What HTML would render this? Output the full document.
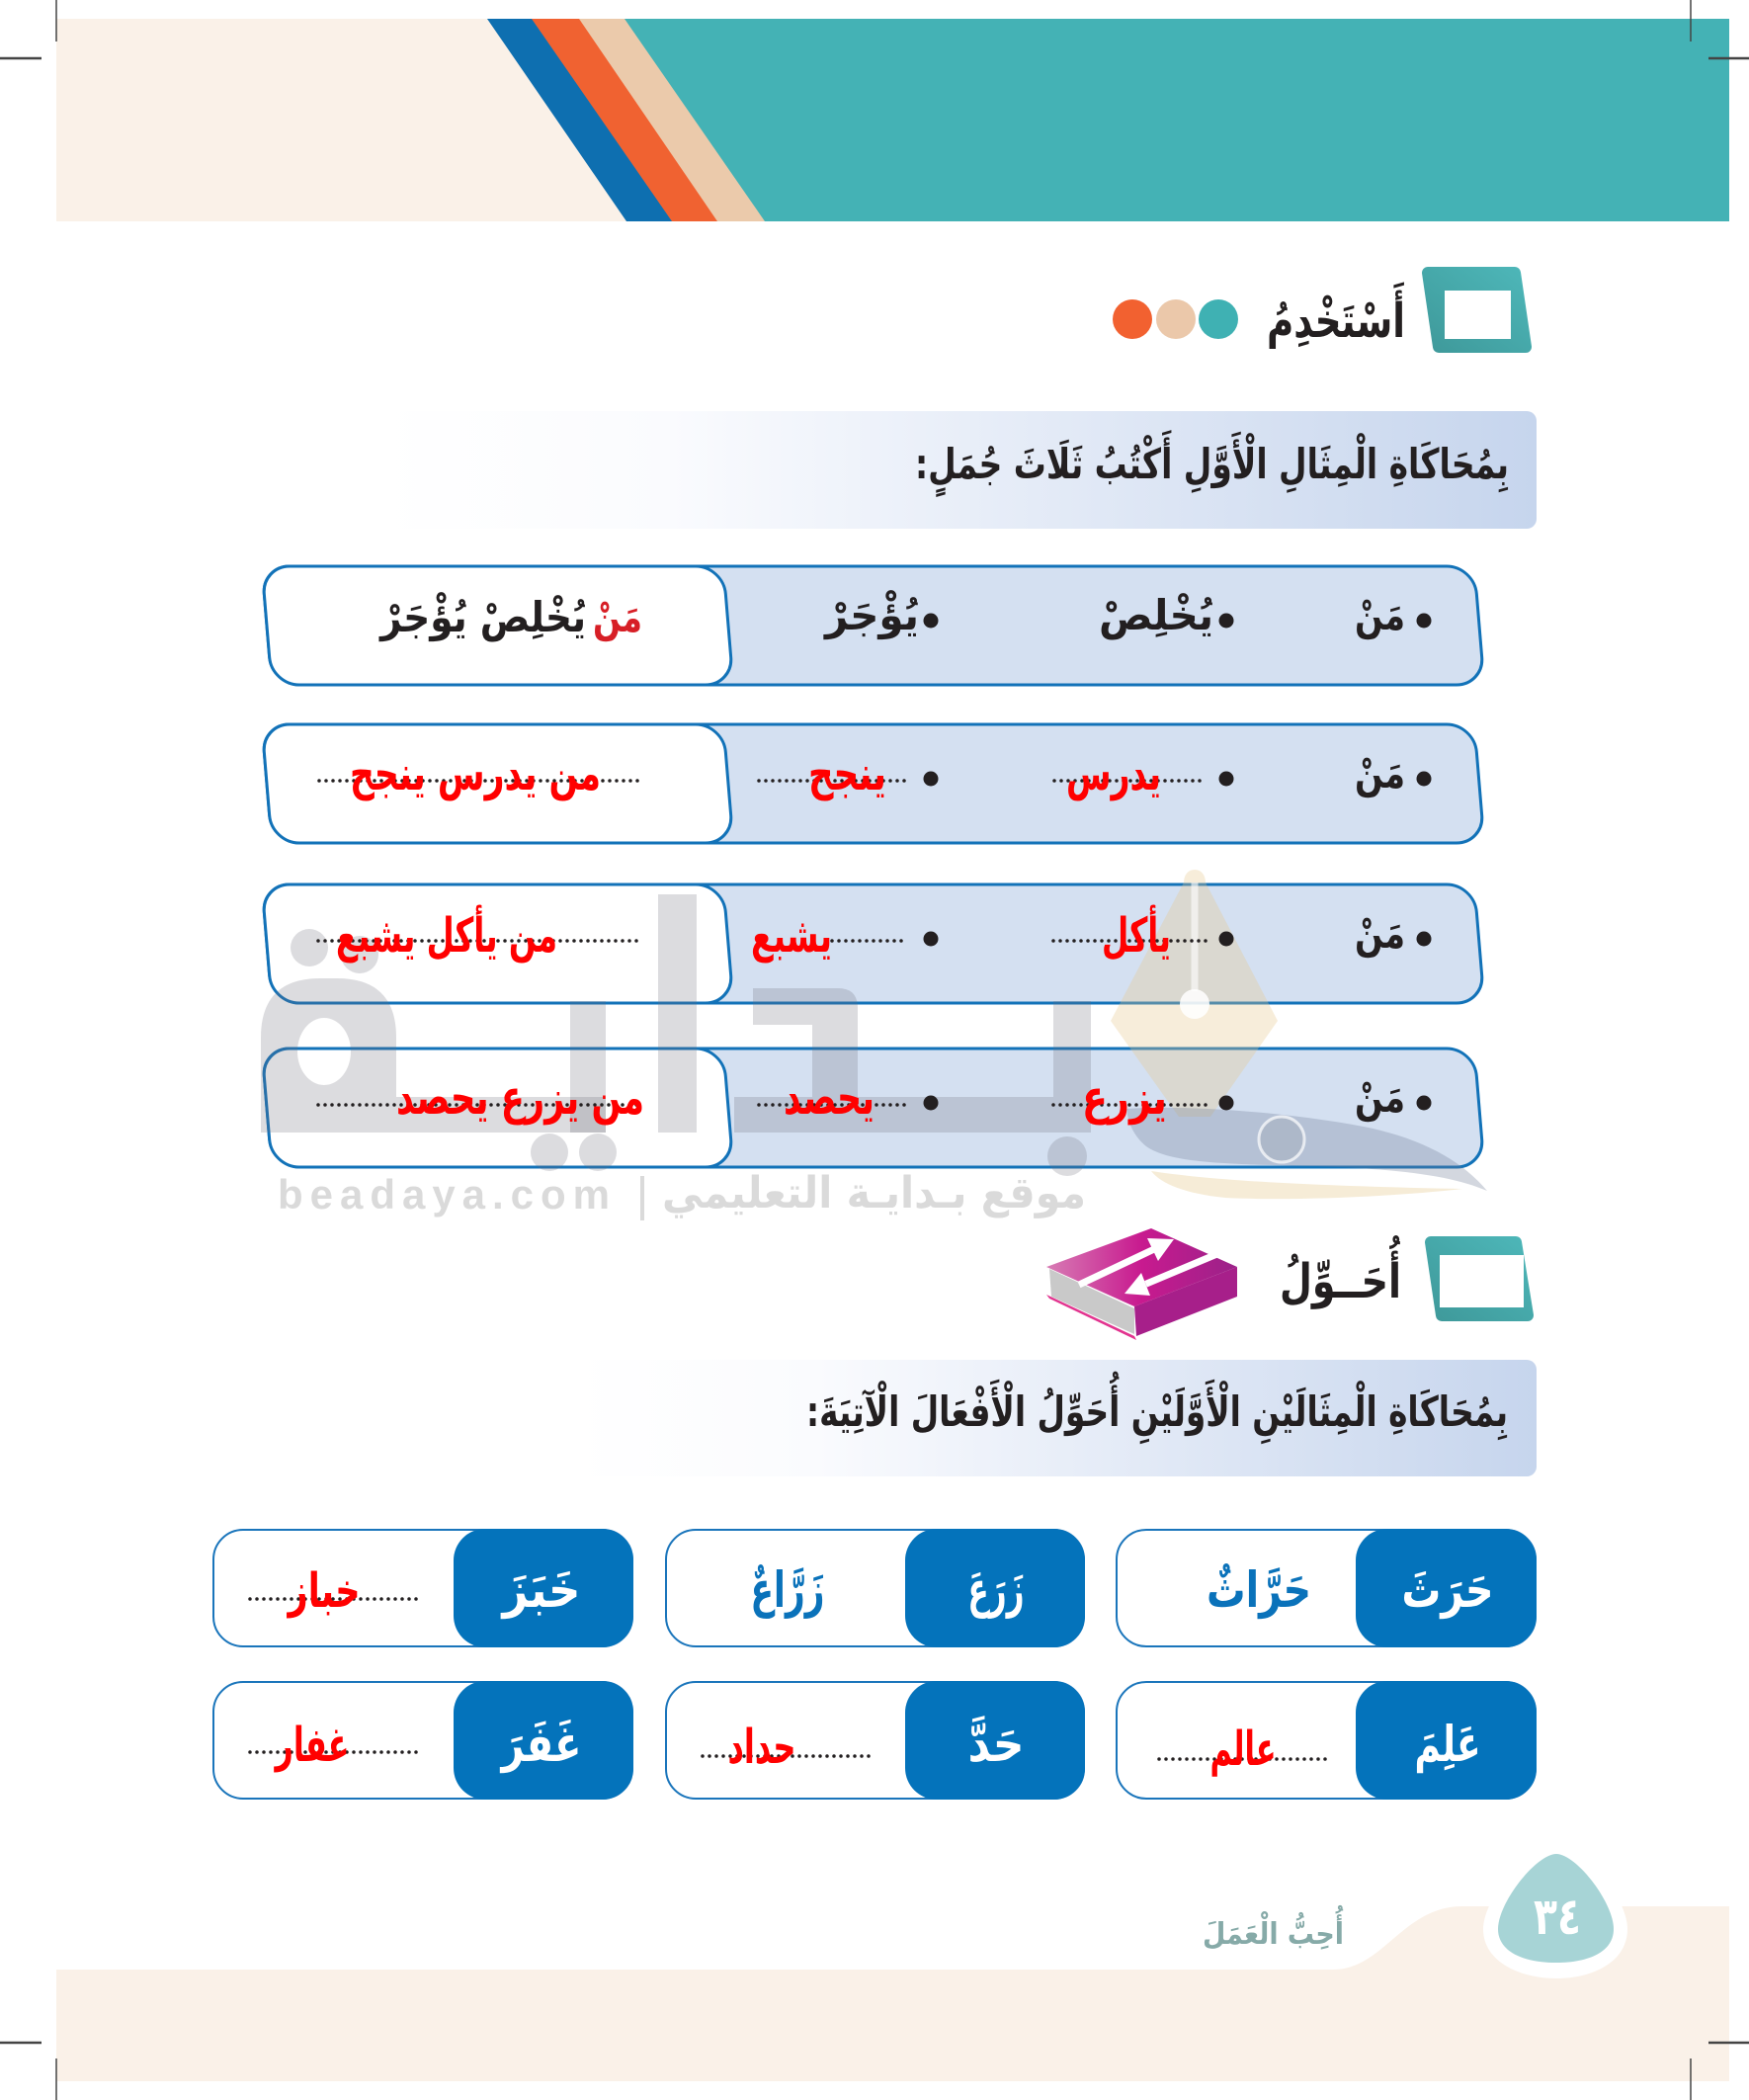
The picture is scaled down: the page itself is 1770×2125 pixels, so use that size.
<!DOCTYPE html>
<html><head><meta charset="utf-8">
<style>
html,body{margin:0;padding:0;background:#fff;}
svg{display:block;}
.ar{font-family:"DejaVu Sans",sans-serif;font-weight:bold;}
</style></head>
<body>
<svg width="1770" height="2125" viewBox="0 0 1770 2125" xmlns="http://www.w3.org/2000/svg">
<defs>
 <linearGradient id="ban" x1="0" x2="1" y1="0" y2="0">
  <stop offset="0" stop-color="#ffffff"/>
  <stop offset="0.25" stop-color="#fafbfe"/>
  <stop offset="1" stop-color="#c6d5ed"/>
 </linearGradient>
 <linearGradient id="icon" x1="0" y1="1" x2="1" y2="0">
  <stop offset="0" stop-color="#3f9a9b"/>
  <stop offset="1" stop-color="#4db6b8"/>
 </linearGradient>
 <linearGradient id="book" x1="0" x2="1" y1="0" y2="0">
  <stop offset="0" stop-color="#d77cb4"/>
  <stop offset="0.5" stop-color="#c81a8f"/>
  <stop offset="1" stop-color="#9b2289"/>
 </linearGradient>
</defs>

<!-- header -->
<rect x="57" y="19" width="1693" height="205" fill="#faf1e8"/>
<polygon points="493,19 1750,19 1750,224 634,224" fill="#0e6fb0"/>
<polygon points="538,19 1750,19 1750,224 680,224" fill="#f06231"/>
<polygon points="586,19 1750,19 1750,224 726,224" fill="#ebcaab"/>
<polygon points="632,19 1750,19 1750,224 774,224" fill="#44b2b5"/>

<!-- footer -->
<path d="M57,1993 L1349,1993 C1400,1993 1420,1929 1480,1929 L1750,1929 L1750,2106 L57,2106 Z" fill="#faf1e8"/>
<path d="M1575,1862 C1600,1862 1647,1920 1647,1952 C1647,1985 1612,2002 1575,2002 C1538,2002 1501,1985 1501,1952 C1501,1920 1550,1862 1575,1862 Z" fill="#ffffff"/>
<path d="M1575,1876 C1595,1876 1633,1925 1633,1952 C1633,1975 1608,1986 1575,1986 C1542,1986 1516,1975 1516,1952 C1516,1925 1555,1876 1575,1876 Z" fill="#a7d4d6"/>
<text class="ar" x="1576" y="1957" font-size="52" fill="#ffffff" text-anchor="middle" textLength="48" lengthAdjust="spacingAndGlyphs">٣٤</text>
<text class="ar" x="1288.5" y="1967" font-size="30" fill="#86aaa8" text-anchor="middle" textLength="143" lengthAdjust="spacingAndGlyphs" direction="rtl">أُحِبُّ الْعَمَلَ</text>

<!-- crop marks -->
<g stroke="#444">
<line x1="57" y1="0" x2="57" y2="42" stroke-width="1.5"/>
<line x1="0" y1="59" x2="42" y2="59" stroke-width="2.5"/>
<line x1="1711" y1="0" x2="1711" y2="42" stroke-width="1.5"/>
<line x1="1729" y1="59" x2="1770" y2="59" stroke-width="2.5"/>
<line x1="0" y1="2067" x2="42" y2="2067" stroke-width="2.5"/>
<line x1="1729" y1="2067" x2="1770" y2="2067" stroke-width="2.5"/>
<line x1="57" y1="2083" x2="57" y2="2125" stroke-width="1.5"/>
<line x1="1711" y1="2083" x2="1711" y2="2125" stroke-width="1.5"/>
</g>

<!-- section 1 heading -->
<polygon points="1445,276 1533,276 1544,351 1456,351" fill="url(#icon)" stroke="url(#icon)" stroke-width="12" stroke-linejoin="round"/>
<rect x="1462" y="294" width="67" height="49" fill="#ffffff"/>
<text class="ar" x="1352" y="341" font-size="48" fill="#231f20" text-anchor="middle" textLength="140" lengthAdjust="spacingAndGlyphs" direction="rtl">أَسْتَخْدِمُ</text>
<circle cx="1146" cy="323" r="20" fill="#f26130"/>
<circle cx="1190" cy="323" r="20" fill="#ebc8aa"/>
<circle cx="1233" cy="323" r="20" fill="#3fb1b3"/>

<!-- banner 1 -->
<rect x="386" y="416" width="1169" height="119" rx="10" fill="url(#ban)"/>
<text class="ar" x="1226.5" y="484" font-size="42" fill="#231f20" text-anchor="middle" textLength="601" lengthAdjust="spacingAndGlyphs" direction="rtl">بِمُحَاكَاةِ الْمِثَالِ الْأَوَّلِ أَكْتُبُ ثَلَاثَ جُمَلٍ:</text>

<!-- rows shapes -->
<g stroke="#1272b8" stroke-width="3">
 <g transform="translate(0,633) skewX(4.76) translate(0,-633)">
  <rect x="270" y="573" width="1227" height="120" rx="28" fill="#d4e0f1"/>
  <rect x="270" y="573" width="467" height="120" rx="28" fill="#ffffff"/>
 </g>
 <g transform="translate(0,793) skewX(4.76) translate(0,-793)">
  <rect x="270" y="733" width="1227" height="120" rx="28" fill="#d4e0f1"/>
  <rect x="270" y="733" width="467" height="120" rx="28" fill="#ffffff"/>
 </g>
 <g transform="translate(0,955) skewX(4.76) translate(0,-955)">
  <rect x="270" y="895" width="1227" height="120" rx="28" fill="#d4e0f1"/>
  <rect x="270" y="895" width="467" height="120" rx="28" fill="#ffffff"/>
 </g>
 <g transform="translate(0,1121) skewX(4.76) translate(0,-1121)">
  <rect x="270" y="1061" width="1227" height="120" rx="28" fill="#d4e0f1"/>
  <rect x="270" y="1061" width="467" height="120" rx="28" fill="#ffffff"/>
 </g>
</g>

<!-- watermark -->
<g fill="#6e6e78" fill-opacity="0.24">
 <path fill-rule="evenodd" d="M324,990 L341,990 Q401,990 401,1050 L401,1146 L264,1146 L264,1050 Q264,990 324,990 Z M328,1030 A27,34 0 1,0 328,1098 A27,34 0 1,0 328,1030 Z"/>
 <circle cx="313" cy="959" r="19"/>
 <circle cx="364" cy="966" r="19"/>
 <rect x="401" y="1110" width="212" height="36"/>
 <rect x="577" y="1013" width="36" height="133"/>
 <circle cx="556" cy="1166" r="19"/>
 <circle cx="605" cy="1166" r="19"/>
 <rect x="666" y="905" width="39" height="241"/>
 <path d="M762,1000 L848,1000 Q868,1000 868,1020 L868,1110 L1066,1110 L1066,1013 L1104,1013 L1104,1146 L743,1146 L743,1110 L822,1110 L822,1037 L762,1037 Z"/>
 <circle cx="1080" cy="1170" r="20"/>
</g>
<path d="M1209,880 C1216,880 1220,886 1220,893 L1293,1033 L1225,1130 L1193,1130 L1124,1033 L1198,893 C1198,886 1202,880 1209,880 Z" fill="#e6c88c" fill-opacity="0.32"/>
<line x1="1209" y1="893" x2="1209" y2="1003" stroke="#ffffff" stroke-opacity="0.6" stroke-width="7"/>
<circle cx="1209" cy="1016" r="15" fill="#ffffff" fill-opacity="0.85"/>
<path d="M1140,1122 C1200,1118 1300,1125 1380,1140 C1440,1152 1480,1175 1505,1205 C1470,1190 1420,1183 1330,1180 C1250,1178 1185,1178 1160,1160 C1148,1150 1142,1138 1140,1122 Z" fill="#6e7a96" fill-opacity="0.3"/>
<path d="M1165,1185 C1230,1195 1330,1200 1480,1203 C1400,1212 1300,1215 1240,1212 C1200,1208 1175,1198 1165,1185 Z" fill="#e6c88c" fill-opacity="0.35"/>
<circle cx="1297" cy="1153" r="23" fill="#9aa6b0" fill-opacity="0.3" stroke="#ffffff" stroke-opacity="0.7" stroke-width="3"/>
<text x="449" y="1223" font-family="'Liberation Sans',sans-serif" font-weight="bold" font-size="42" fill="#dadada" text-anchor="middle" textLength="336" lengthAdjust="spacing">beadaya.com</text>
<line x1="650" y1="1190" x2="650" y2="1235" stroke="#dadada" stroke-width="4"/>
<text class="ar" x="884.5" y="1222" font-size="44" fill="#dadada" text-anchor="middle" textLength="429" lengthAdjust="spacingAndGlyphs" direction="rtl">موقع بـدايـة التعليمي</text>

<!-- rows text -->
<g fill="#231f20">
 <circle cx="1441" cy="628" r="7.5"/><circle cx="1241" cy="628" r="7.5"/><circle cx="942" cy="628" r="7.5"/>
 <circle cx="1441" cy="788" r="7.5"/><circle cx="1241" cy="788" r="7.5"/><circle cx="942" cy="788" r="7.5"/>
 <circle cx="1441" cy="950" r="7.5"/><circle cx="1241" cy="950" r="7.5"/><circle cx="942" cy="950" r="7.5"/>
 <circle cx="1441" cy="1116" r="7.5"/><circle cx="1241" cy="1116" r="7.5"/><circle cx="942" cy="1116" r="7.5"/>
</g>
<g stroke="#231f20" stroke-width="3.5" stroke-linecap="round" stroke-dasharray="0 7" fill="none">
 <line x1="1067" y1="790" x2="1220" y2="790"/><line x1="768" y1="790" x2="920" y2="790"/><line x1="323" y1="790" x2="648" y2="790"/>
 <line x1="1066" y1="952" x2="1221" y2="952"/><line x1="842" y1="952" x2="919" y2="952"/><line x1="322" y1="952" x2="648" y2="952"/>
 <line x1="1066" y1="1118" x2="1221" y2="1118"/><line x1="768" y1="1118" x2="919" y2="1118"/><line x1="322" y1="1118" x2="648" y2="1118"/>
</g>
<g class="ar" fill="#231f20" font-size="42" text-anchor="middle">
 <text x="1396.5" y="637" textLength="51" lengthAdjust="spacingAndGlyphs">مَنْ</text>
 <text x="1170" y="637" textLength="116" lengthAdjust="spacingAndGlyphs">يُخْلِصْ</text>
 <text x="882.5" y="637" textLength="95" lengthAdjust="spacingAndGlyphs">يُؤْجَرْ</text>
 <text x="625" y="639" textLength="50" lengthAdjust="spacingAndGlyphs" fill="#d71f26">مَنْ</text>
 <text x="489" y="639" textLength="208" lengthAdjust="spacingAndGlyphs" direction="rtl">يُخْلِصْ يُؤْجَرْ</text>
 <text x="1396.5" y="797" textLength="51" lengthAdjust="spacingAndGlyphs">مَنْ</text>
 <text x="1396.5" y="959" textLength="51" lengthAdjust="spacingAndGlyphs">مَنْ</text>
 <text x="1396.5" y="1125" textLength="51" lengthAdjust="spacingAndGlyphs">مَنْ</text>
</g>
<g class="ar" fill="#ff0000" font-size="48" text-anchor="middle">
 <text x="1127" y="799" textLength="96" lengthAdjust="spacingAndGlyphs">يدرس</text>
 <text x="857.5" y="799" textLength="79" lengthAdjust="spacingAndGlyphs">ينجح</text>
 <text x="481" y="799" textLength="254" lengthAdjust="spacingAndGlyphs" direction="rtl">من يدرس ينجح</text>
 <text x="1150" y="963" textLength="70" lengthAdjust="spacingAndGlyphs">يأكل</text>
 <text x="801" y="963" textLength="82" lengthAdjust="spacingAndGlyphs">يشبع</text>
 <text x="452" y="963" textLength="224" lengthAdjust="spacingAndGlyphs" direction="rtl">من يأكل يشبع</text>
 <text x="1138" y="1127" textLength="86" lengthAdjust="spacingAndGlyphs">يزرع</text>
 <text x="839" y="1127" textLength="92" lengthAdjust="spacingAndGlyphs">يحصد</text>
 <text x="526.5" y="1127" textLength="251" lengthAdjust="spacingAndGlyphs" direction="rtl">من يزرع يحصد</text>
</g>

<!-- section 2 heading -->
<polygon points="1448,1257 1534,1257 1546,1331 1459,1331" fill="url(#icon)" stroke="url(#icon)" stroke-width="12" stroke-linejoin="round"/>
<rect x="1457" y="1270" width="85" height="53" fill="#ffffff"/>
<text class="ar" x="1356.5" y="1313" font-size="48" fill="#231f20" text-anchor="middle" textLength="123" lengthAdjust="spacingAndGlyphs" direction="rtl">أُحَــوِّلُ</text>
<!-- book -->
<polygon points="1059,1310 1148,1352 1150,1356 1062,1314" fill="#e2348f"/>
<polygon points="1062,1284 1148,1324 1148,1350 1064,1312" fill="#c9c9c9"/>
<polygon points="1148,1322 1252,1282 1252,1312 1150,1352" fill="#a71f8a"/>
<polygon points="1059,1282 1165,1243 1252,1282 1148,1322" fill="url(#book)"/>
<g stroke="#ffffff" stroke-width="7" fill="none">
 <line x1="1092" y1="1300" x2="1167" y2="1264.5"/>
 <line x1="1234" y1="1268" x2="1159.5" y2="1299.3"/>
</g>
<polygon points="1188,1254 1172,1276 1161,1253" fill="#ffffff"/>
<polygon points="1138,1309 1164,1311 1155,1288" fill="#ffffff"/>

<!-- banner 2 -->
<rect x="583" y="1376" width="972" height="118" rx="10" fill="url(#ban)"/>
<text class="ar" x="1171" y="1443" font-size="42" fill="#231f20" text-anchor="middle" textLength="710" lengthAdjust="spacingAndGlyphs" direction="rtl">بِمُحَاكَاةِ الْمِثَالَيْنِ الْأَوَّلَيْنِ أُحَوِّلُ الْأَفْعَالَ الْآتِيَةَ:</text>

<!-- bottom boxes -->
<g stroke="#1a75bb" stroke-width="2" fill="#ffffff">
 <rect x="216" y="1548" width="424" height="118" rx="30"/>
 <rect x="674" y="1548" width="423" height="118" rx="30"/>
 <rect x="1130" y="1548" width="424" height="118" rx="30"/>
 <rect x="216" y="1702" width="424" height="118" rx="30"/>
 <rect x="674" y="1702" width="423" height="118" rx="30"/>
 <rect x="1130" y="1702" width="424" height="118" rx="30"/>
</g>
<g fill="#0473bb">
 <rect x="459" y="1547" width="182" height="120" rx="32"/>
 <rect x="916" y="1547" width="182" height="120" rx="32"/>
 <rect x="1372" y="1547" width="183" height="120" rx="32"/>
 <rect x="459" y="1701" width="182" height="120" rx="32"/>
 <rect x="916" y="1701" width="182" height="120" rx="32"/>
 <rect x="1372" y="1701" width="183" height="120" rx="32"/>
</g>
<g stroke="#231f20" stroke-width="3.5" stroke-linecap="round" stroke-dasharray="0 7" fill="none">
 <line x1="253" y1="1618" x2="427" y2="1618"/>
 <line x1="1173" y1="1780" x2="1344" y2="1780"/>
 <line x1="711" y1="1777" x2="882" y2="1777"/>
 <line x1="253" y1="1773" x2="427" y2="1773"/>
</g>
<g class="ar" font-size="50" text-anchor="middle">
 <text x="1465" y="1626" fill="#ffffff" textLength="93" lengthAdjust="spacingAndGlyphs">حَرَثَ</text>
 <text x="1274" y="1626" fill="#0a72ba" textLength="106" lengthAdjust="spacingAndGlyphs">حَرَّاثٌ</text>
 <text x="1008" y="1626" fill="#ffffff" textLength="57" lengthAdjust="spacingAndGlyphs">زَرَعَ</text>
 <text x="797" y="1626" fill="#0a72ba" textLength="75" lengthAdjust="spacingAndGlyphs">زَرَّاعٌ</text>
 <text x="548" y="1626" fill="#ffffff" textLength="79" lengthAdjust="spacingAndGlyphs">خَبَزَ</text>
 <text x="1465" y="1782" fill="#ffffff" textLength="67" lengthAdjust="spacingAndGlyphs">عَلِمَ</text>
 <text x="1008" y="1782" fill="#ffffff" textLength="57" lengthAdjust="spacingAndGlyphs">حَدَّ</text>
 <text x="548" y="1782" fill="#ffffff" textLength="81" lengthAdjust="spacingAndGlyphs">غَفَرَ</text>
</g>
<g class="ar" font-size="48" fill="#ff0000" text-anchor="middle">
 <text x="328" y="1626" textLength="73" lengthAdjust="spacingAndGlyphs">خباز</text>
 <text x="1258" y="1786" textLength="67" lengthAdjust="spacingAndGlyphs">عالم</text>
 <text x="771" y="1784" textLength="69" lengthAdjust="spacingAndGlyphs">حداد</text>
 <text x="316" y="1782" textLength="75" lengthAdjust="spacingAndGlyphs">غفار</text>
</g>
</svg>
</body></html>
